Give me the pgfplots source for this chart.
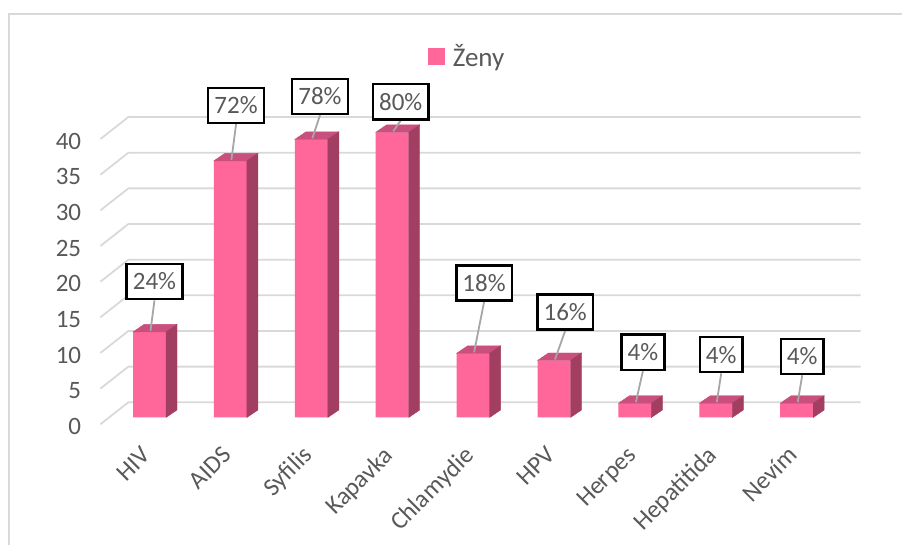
\documentclass[border=0pt]{standalone}
\usepackage{pgfplots}
\usepackage{pgfplotstable}
\pgfplotsset{compat=1.18}
\usepackage{fontspec}
\setmainfont{Carlito}
\definecolor{front}{HTML}{FF6699}
\definecolor{sidec}{HTML}{A33E63}
\definecolor{topc}{HTML}{C94F7C}
\definecolor{gridc}{HTML}{D9D9D9}
\definecolor{textc}{HTML}{595959}
\definecolor{leadc}{HTML}{A6A6A6}
\newcommand\fs{\fontsize{25}{30}\selectfont}
\newcommand\fl{\fontsize{27}{32}\selectfont}
\pgfdeclareplotmark{nothing}{}
\pgfplotstableread{
x y pct dx dy
0 12 24 5 50.4
1 36 72 5.7 55.5
2 39 78 8.7 43
3 40 80 8.5 30.5
4 9 18 11 70.3
5 8 16 11.2 48.5
6 2 4 8 51
7 2 4 5.4 48.6
8 2 4 5.5 46.7
}\datatable
\begin{document}
\begin{tikzpicture}
\begin{axis}[
  x=80.9pt, y=7.13pt,
  xmin=-0.5, xmax=8.55, ymin=0, ymax=40,
  clip=false,
  axis line style={draw=none},
  tick style={draw=none},
  major tick length=0pt,
  ytick={0,5,...,40},
  xtick={0,...,8},
  xticklabels={HIV,AIDS,Syfilis,Kapavka,Chlamydie,HPV,Herpes,Hepatitida,Nevím},
  /pgf/number format/assume math mode=true,
  tick label style={font=\fs, text=textc},
  yticklabel style={anchor=east, inner sep=0pt, xshift=-27.7pt, yshift=-9pt},
  xticklabel style={yshift=-37pt, rotate=45, anchor=east, inner sep=0pt, text height=0.63em, text depth=0pt},
  legend style={at={(0.4356,1.2668)}, anchor=west, draw=none, fill=none, font=\fl, text=textc, inner sep=0pt, nodes={inner sep=0pt}},
]
% grid on back wall with side diagonals
\pgfplotsinvokeforeach{0,5,...,40}{
  \draw[gridc, line width=1.8pt] ([xshift=-8.7pt,yshift=-6.8pt]axis cs:-0.5,#1) -- ([xshift=19.3pt,yshift=15.2pt]axis cs:-0.5,#1) -- ([xshift=19.3pt,yshift=15.2pt]axis cs:8.55,#1);
}
\addplot[ybar, bar width=33pt, fill=front, draw=none,
  legend image code/.code={\fill[front] (0pt,-8.3pt) rectangle (16.6pt,8.3pt); \path (24.6pt,0pt);}]
  table[x=x, y=y] {\datatable};
\addlegendentry{Ženy}
% top and side faces of the bars, leader lines
\addplot[forget plot, scatter, only marks, mark=nothing,
  visualization depends on={rawy \as \rawv},
  visualization depends on={\thisrow{dx} \as \ldx},
  visualization depends on={\thisrow{dy} \as \ldy},
  scatter/@pre marker code/.code={
    \fill[topc] (-16.5pt,0pt) -- (16.5pt,0pt) -- (27.5pt,7.5pt) -- (-5.5pt,7.5pt) -- cycle;
    \fill[sidec] (16.5pt,0pt) -- (27.5pt,7.5pt) -- (27.5pt,7.5pt-\rawv*7.13pt) -- (16.5pt,-\rawv*7.13pt) -- cycle;
    \draw[leadc, line width=1.8pt] (1pt,1pt) -- (\ldx pt,\ldy pt-18.75pt);
  },
  scatter/@post marker code/.code={},
  ] table[x=x, y=y] {\datatable};
% data labels
\addplot[forget plot, only marks, mark=nothing,
  point meta=explicit,
  visualization depends on={\thisrow{dx} \as \ldx},
  visualization depends on={\thisrow{dy} \as \ldy},
  nodes near coords={\pgfmathprintnumber{\pgfplotspointmeta}\%},
  every node near coord/.append style={anchor=center, xshift=\ldx pt, yshift=\ldy pt,
    draw=black, line width=2.4pt, fill=white, text=textc, font=\fs,
    minimum height=35.1pt, inner xsep=6.2pt, inner ysep=0pt},
  ] table[x=x, y=y, meta=pct] {\datatable};
\coordinate (TL) at (axis cs:-1.84796,58.5554);
\end{axis}
\draw[gridc, line width=2pt] ([shift={(9pt,-545pt)}]TL) -- ([shift={(9pt,-14.5pt)}]TL) -- ([shift={(902pt,-14.5pt)}]TL);
\pgfresetboundingbox
\path (TL) rectangle ([shift={(902pt,-545pt)}]TL);
\end{tikzpicture}
\end{document}
